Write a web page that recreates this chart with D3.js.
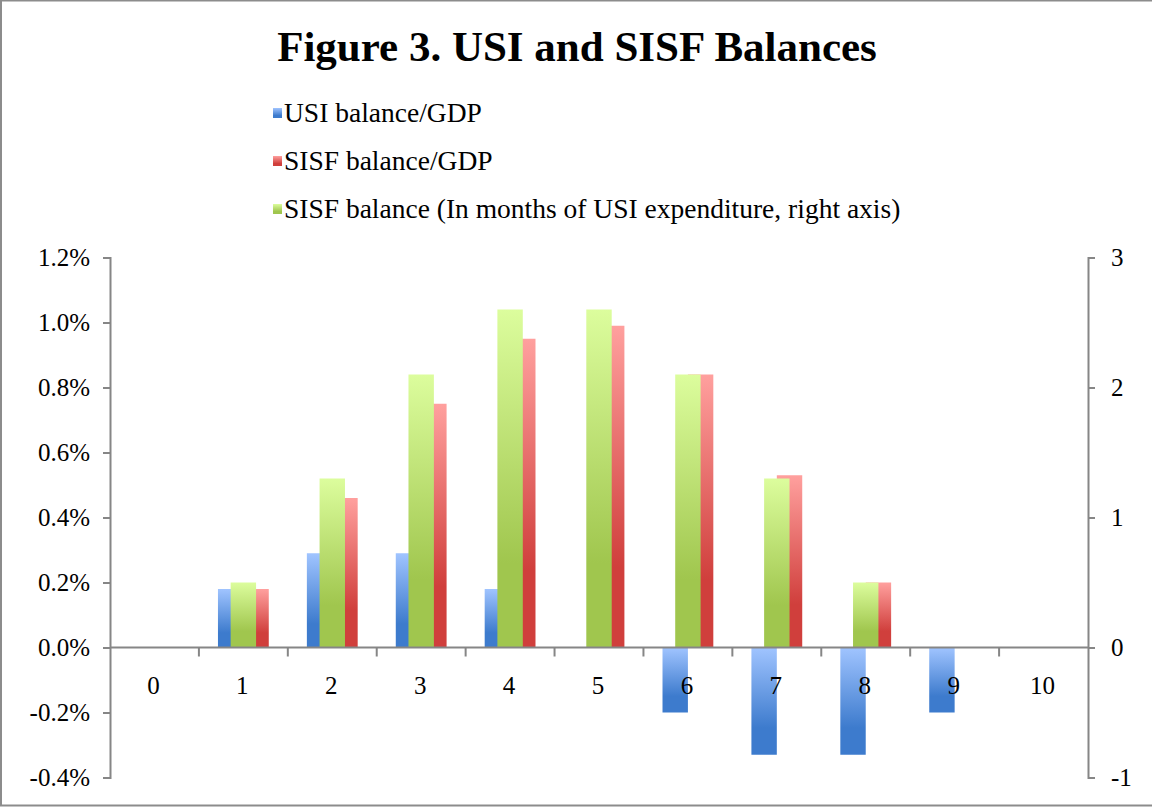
<!DOCTYPE html>
<html>
<head>
<meta charset="utf-8">
<script src="https://cdn.jsdelivr.net/npm/d3@7"></script>
<style>
    body { margin: 0; background: #fff; }
    text { font-family: "Liberation Serif", "Times New Roman", serif; fill: #000; }
</style>
</head>
<body>
<div id="chart"></div>
<script>
const categories = ["0", "1", "2", "3", "4", "5", "6", "7", "8", "9", "10"];
// percent of GDP, left axis
const usiBalance = [0, 0.18, 0.29, 0.29, 0.18, 0, -0.2, -0.33, -0.33, -0.2, 0];
const sisfBalance = [0, 0.18, 0.46, 0.75, 0.95, 0.99, 0.84, 0.53, 0.2, 0, 0];
// months of USI expenditure, right axis
const sisfMonths = [0, 0.5, 1.3, 2.1, 2.6, 2.6, 2.1, 1.3, 0.5, 0, 0];

const leftTicks = [-0.4, -0.2, 0, 0.2, 0.4, 0.6, 0.8, 1.0, 1.2];
const rightTicks = [-1, 0, 1, 2, 3];

const seriesNames = [
    "USI balance/GDP",
    "SISF balance/GDP",
    "SISF balance (In months of USI expenditure, right axis)",
];

const width = 1152;
const height = 807;
const margin = { top: 257.5, right: 64, bottom: 29.5, left: 110 };

const svg = d3.select("#chart")
    .append("svg")
    .attr("width", width)
    .attr("height", height)
    .attr("viewBox", [0, 0, width, height]);

// gradients, light on top, dark at the bottom of every bar
const gradients = [
    { id: "g-blue", top: "#a0c4ff", bottom: "#3d7bcd" },
    { id: "g-red", top: "#ffa09e", bottom: "#d03f3c" },
    { id: "g-green", top: "#dcfd9d", bottom: "#a0c64e" },
];
const defs = svg.append("defs");
gradients.forEach((g) => {
    const lg = defs.append("linearGradient")
        .attr("id", g.id)
        .attr("x1", 0).attr("y1", 0)
        .attr("x2", 0).attr("y2", 1);
    lg.append("stop").attr("offset", "0%").attr("stop-color", g.top);
    lg.append("stop").attr("offset", "75%").attr("stop-color", g.bottom);
    lg.append("stop").attr("offset", "100%").attr("stop-color", g.bottom);
});

// outer frame
svg.append("rect")
    .attr("x", 1)
    .attr("y", 0.5)
    .attr("width", width + 2)
    .attr("height", 805)
    .attr("fill", "none")
    .attr("stroke", "#8c8c8c")
    .attr("stroke-width", 2);

const xScale = d3.scaleBand()
    .domain(categories)
    .range([margin.left, width - margin.right]);

const yLeft = d3.scaleLinear()
    .domain([-0.4, 1.2])
    .range([height - margin.bottom, margin.top]);

const yRight = d3.scaleLinear()
    .domain([-1, 3])
    .range([height - margin.bottom, margin.top]);

// primary series: two bars per category, gap width 150%
const barWidth = xScale.bandwidth() / 3.5;

const primary = [
    { values: usiBalance, fill: "url(#g-blue)", offset: -1 },
    { values: sisfBalance, fill: "url(#g-red)", offset: 0 },
];

primary.forEach((s) => {
    svg.append("g")
        .selectAll("rect")
        .data(s.values.map((v, i) => ({ c: categories[i], v: v })).filter((d) => d.v !== 0))
        .join("rect")
        .attr("x", (d) => xScale(d.c) + xScale.bandwidth() / 2 + s.offset * barWidth)
        .attr("y", (d) => yLeft(Math.max(0, d.v)))
        .attr("width", barWidth)
        .attr("height", (d) => Math.abs(yLeft(d.v) - yLeft(0)))
        .attr("fill", s.fill);
});

// secondary series sits centred on top of the primary bars
svg.append("g")
    .selectAll("rect")
    .data(sisfMonths.map((v, i) => ({ c: categories[i], v: v })).filter((d) => d.v !== 0))
    .join("rect")
    .attr("x", (d) => xScale(d.c) + xScale.bandwidth() / 2 - barWidth / 2)
    .attr("y", (d) => yRight(Math.max(0, d.v)))
    .attr("width", barWidth)
    .attr("height", (d) => Math.abs(yRight(d.v) - yRight(0)))
    .attr("fill", "url(#g-green)");

const axisColor = "#868686";

// left axis
const leftAxis = svg.append("g")
    .attr("transform", `translate(${margin.left},0)`)
    .call(d3.axisLeft(yLeft)
        .tickValues(leftTicks)
        .tickSize(7)
        .tickSizeOuter(7)
        .tickPadding(13)
        .tickFormat((d) => d.toFixed(1) + "%"));

// right axis
const rightAxis = svg.append("g")
    .attr("transform", `translate(${width - margin.right},0)`)
    .call(d3.axisRight(yRight)
        .tickValues(rightTicks)
        .tickSize(7)
        .tickSizeOuter(7)
        .tickPadding(16)
        .tickFormat((d) => String(d)));

[leftAxis, rightAxis].forEach((g) => {
    g.select(".domain").attr("stroke", axisColor).attr("stroke-width", 2);
    g.selectAll(".tick line").attr("stroke", axisColor).attr("stroke-width", 2);
    g.selectAll(".tick text")
        .attr("font-family", "Liberation Serif, serif")
        .attr("font-size", 25)
        .attr("fill", "#000");
});

// category axis along zero, ticks on the category boundaries
svg.append("line")
    .attr("x1", margin.left)
    .attr("x2", width - margin.right)
    .attr("y1", yLeft(0))
    .attr("y2", yLeft(0))
    .attr("stroke", axisColor)
    .attr("stroke-width", 2);

svg.append("g")
    .selectAll("line")
    .data(categories.slice(1))
    .join("line")
    .attr("x1", (d) => xScale(d))
    .attr("x2", (d) => xScale(d))
    .attr("y1", yLeft(0))
    .attr("y2", yLeft(0) + 9)
    .attr("stroke", axisColor)
    .attr("stroke-width", 2);

svg.append("g")
    .selectAll("text")
    .data(categories)
    .join("text")
    .attr("x", (d) => xScale(d) + xScale.bandwidth() / 2 - 1)
    .attr("y", yLeft(0) + 46)
    .attr("text-anchor", "middle")
    .attr("font-size", 25)
    .text((d) => d);

// title
svg.append("text")
    .attr("x", 577)
    .attr("y", 61)
    .attr("text-anchor", "middle")
    .attr("font-size", 43)
    .attr("font-weight", "bold")
    .text("Figure 3. USI and SISF Balances");

// legend
const legendColors = ["url(#g-blue)", "url(#g-red)", "url(#g-green)"];
const legend = svg.append("g")
    .selectAll("g")
    .data(seriesNames)
    .join("g")
    .attr("transform", (d, i) => `translate(273,${113 + i * 48})`);

legend.append("rect")
    .attr("x", 0)
    .attr("y", -5)
    .attr("width", 9)
    .attr("height", 10)
    .attr("fill", (d, i) => legendColors[i]);

legend.append("text")
    .attr("x", 11)
    .attr("y", 9)
    .attr("font-size", 27.5)
    .text((d) => d);
</script>
</body>
</html>
